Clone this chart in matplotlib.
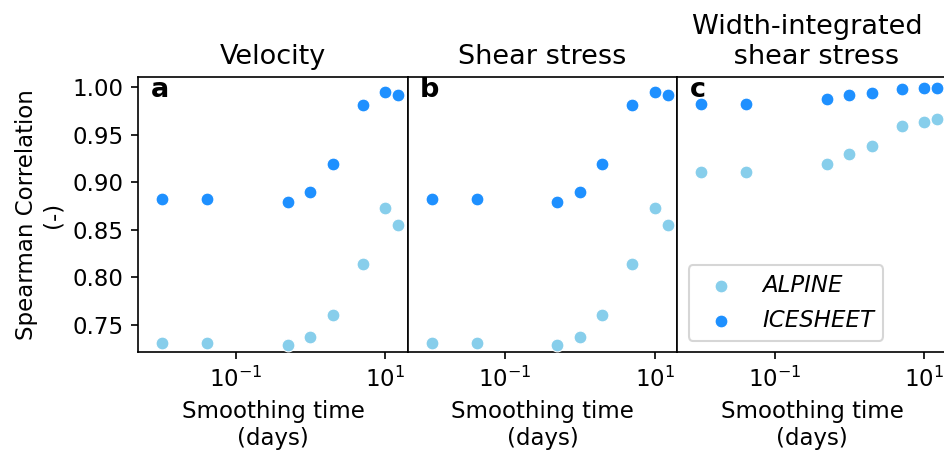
import matplotlib
matplotlib.use("Agg")
import matplotlib.pyplot as plt

plt.rcParams["font.size"] = 11

# smoothing windows (days): 15 min, 1 h, 12 h, 1, 2, 5, 10, 15 days
smoothing_days = [1 / 96, 1 / 24, 0.5, 1, 2, 5, 10, 15]

vel_alpine   = [0.731, 0.731, 0.7295, 0.737, 0.761, 0.814, 0.873, 0.855]
vel_icesheet = [0.883, 0.883, 0.8795, 0.890, 0.919, 0.981, 0.995, 0.992]

shear_alpine   = [0.731, 0.731, 0.7295, 0.737, 0.761, 0.814, 0.873, 0.855]
shear_icesheet = [0.883, 0.883, 0.8795, 0.890, 0.919, 0.981, 0.995, 0.992]

width_alpine   = [0.9105, 0.9105, 0.919, 0.9295, 0.938, 0.959, 0.964, 0.967]
width_icesheet = [0.983, 0.983, 0.988, 0.992, 0.994, 0.998, 0.9995, 0.9993]

titles  = ["Velocity", "Shear stress", "Width-integrated \n shear stress"]
letters = ["a", "b", "c"]
series  = [(vel_alpine, vel_icesheet),
           (shear_alpine, shear_icesheet),
           (width_alpine, width_icesheet)]
names   = ["ALPINE", "ICESHEET"]
colors  = ["#87CEEB", "#1E90FF"]

W, H = 944, 455
fig = plt.figure(figsize=(W / 150, H / 150), dpi=150)

left0, width, bottom, height = 138.3, 269.5, 455 - 352.3, 275.6
axes = []
for i in range(3):
    ax = fig.add_axes([(left0 + i * width) / W, bottom / H, width / W, height / H])
    axes.append(ax)

for i, ax in enumerate(axes):
    for vals, name, c in zip(series[i], names, colors):
        ax.scatter(smoothing_days, vals, s=38, color=c, edgecolor="white",
                   linewidth=0.5, label=name, zorder=3)
    ax.set_xscale("log")
    ax.set_xlim(0.005, 20)
    ax.set_ylim(0.7213, 1.0112)
    ax.set_xticks([0.1, 10])
    ax.minorticks_off()
    ax.set_title(titles[i], fontsize=13)
    ax.set_xlabel("Smoothing time\n(days)")
    ax.text(0.045, 1.0, letters[i], transform=ax.transAxes, ha="left", va="top",
            fontsize=13, fontweight="bold")
    if i == 0:
        ax.set_yticks([0.75, 0.80, 0.85, 0.90, 0.95, 1.00])
        ax.set_ylabel("Spearman Correlation\n(-)")
    else:
        ax.set_yticks([])

leg = axes[2].legend(loc="lower left", prop={"style": "italic", "size": 11})

fig.savefig("out.png", dpi=150)
